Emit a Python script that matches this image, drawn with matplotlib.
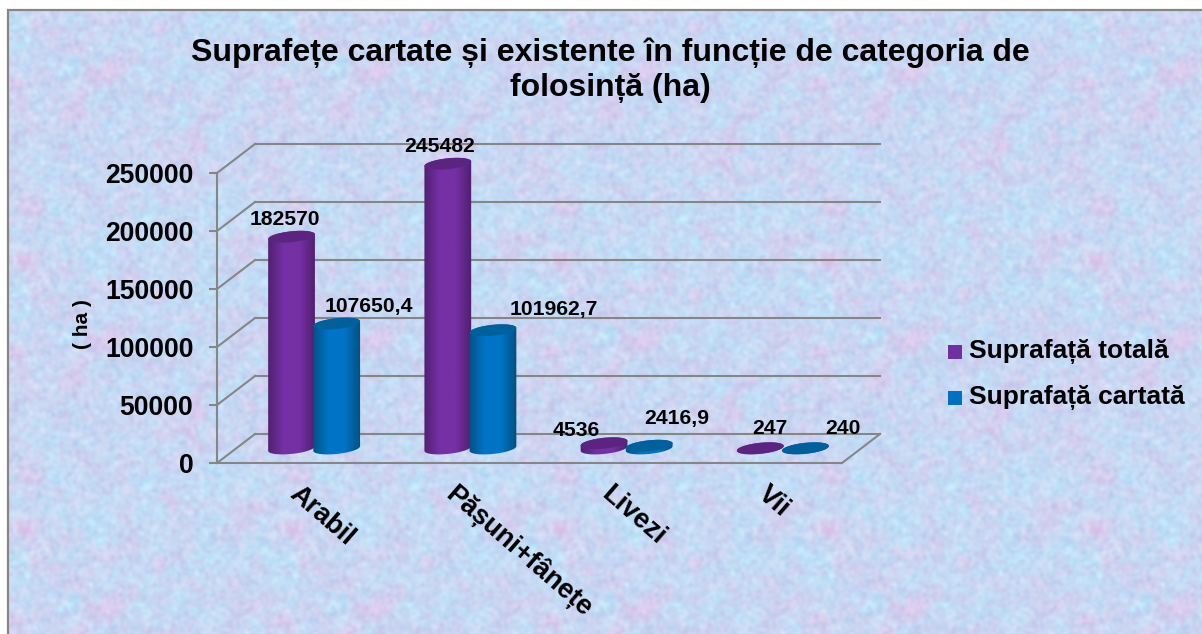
import numpy as np
import matplotlib
matplotlib.use("Agg")
import matplotlib.pyplot as plt
from matplotlib.colors import LinearSegmentedColormap
from matplotlib.patches import Polygon, Rectangle
from matplotlib.transforms import IdentityTransform, ScaledTranslation

plt.rcParams['font.family'] = ['Liberation Sans', 'DejaVu Sans']
plt.rcParams['font.weight'] = 'bold'

categories = ["Arabil", "Pășuni+fânețe", "Livezi", "Vii"]
total_area = [182570, 245482, 4536, 247]
mapped_area = [107650.4, 101962.7, 2416.9, 240]
total_labels = ["182570", "245482", "4536", "247"]
mapped_labels = ["107650,4", "101962,7", "2416,9", "240"]
y_ticks = [0, 50000, 100000, 150000, 200000, 250000]

W, H = 1202, 634
GREY = "#868686"
DEPTH = (38, 29)
BAR_OFF = 0.1445     # bar centre distance from category centre
HALF_W = 23.5        # cylinder radius, px
HALF_B = 5.4
TILT = np.radians(6)

# label shift from the top of each cylinder, px (x right, y up)
total_shift = [(-7, 17), (-8, 17), (-28, 13), (10, 20)]
mapped_shift = [(32, 17), (61, 21), (28, 27), (37, 20)]

fig = plt.figure(figsize=(W / 100, H / 100), dpi=100)


def px_axes(left, top, right, bottom):
    return [left / W, 1 - bottom / H, (right - left) / W, (bottom - top) / H]


def blur(a, sigma):
    fy = np.fft.fftfreq(a.shape[0])[:, None]
    fx = np.fft.fftfreq(a.shape[1])[None, :]
    g = np.exp(-2 * (np.pi * sigma) ** 2 * (fx ** 2 + fy ** 2))
    out = np.fft.ifft2(np.fft.fft2(a) * g).real
    return (out - out.mean()) / out.std()


# mottled pastel paper behind the chart, one small tile repeated
rng = np.random.default_rng(4)
T = 268
hue = blur(rng.normal(size=(T, T)), 9) * 0.6 + blur(rng.normal(size=(T, T)), 3) * 0.6
pink = np.clip(blur(rng.normal(size=(T, T)), 9) - 1.0, 0, None)
fine = blur(rng.normal(size=(T, T)), 1.8)
tile = np.stack([
    200 - 5 * hue + 8 * pink + 4 * fine,
    216 + 4 * hue - 7 * pink + 4 * fine,
    243 + 2 * hue - 3 * pink + 2 * fine,
], axis=2)
tex = np.tile(tile, (H // T + 1, W // T + 1, 1))[:H, :W]
bg = fig.add_axes([0, 0, 1, 1], zorder=0)
bg.imshow(np.clip(tex, 0, 255).astype(np.uint8), extent=(0, W, H, 0), aspect='auto',
          interpolation='bilinear')
bg.set_xlim(0, W)
bg.set_ylim(H, 0)
bg.axis('off')
bg.add_patch(Rectangle((0, 0), 8, H, color='white', lw=0, zorder=2))
bg.add_patch(Rectangle((0, 0), W, 10, color='white', lw=0, zorder=2))
bg.plot([8, 8, W], [H, 10, 10], color=GREY, lw=1.6, zorder=3, solid_joinstyle='miter')

ax = fig.add_axes(px_axes(217, 173, 842, 463), zorder=1)
ax.patch.set_alpha(0)
ax.set_xlim(0, 4)
ax.set_ylim(0, 250000)
for side in ['top', 'right']:
    ax.spines[side].set_visible(False)
for side in ['left', 'bottom']:
    ax.spines[side].set_color(GREY)
    ax.spines[side].set_linewidth(1.5)
ax.set_yticks(y_ticks)
ax.tick_params(axis='y', length=6, width=1.5, color=GREY, labelsize=19.1, pad=11)
ax.set_xticks(np.arange(len(categories)) + 0.5)
ax.set_xticklabels(categories, rotation=-41, ha='left', rotation_mode='anchor', fontsize=19.5)
ax.tick_params(axis='x', length=0, pad=13)
nudge = ScaledTranslation(6 / 100, 0, fig.dpi_scale_trans)
for lab in ax.get_xticklabels():
    lab.set_transform(lab.get_transform() + nudge)
ax.set_ylabel("( ha )", fontsize=15, fontweight='bold', labelpad=9, y=0.48)

px = IdentityTransform()


def to_px(x, v):
    return ax.transData.transform((x, v))


# walls: back gridlines, left diagonals, right floor edge
for v in y_ticks:
    p0 = to_px(0, v)
    p1 = to_px(4, v)
    ax.plot([p0[0], p0[0] + DEPTH[0]], [p0[1], p0[1] + DEPTH[1]], color=GREY, lw=1.5,
            transform=px, clip_on=False, zorder=1)
    ax.plot([p0[0] + DEPTH[0], p1[0] + DEPTH[0]], [p0[1] + DEPTH[1]] * 2, color=GREY, lw=1.5,
            transform=px, clip_on=False, zorder=1)
p1 = to_px(4, 0)
ax.plot([p1[0], p1[0] + DEPTH[0]], [p1[1], p1[1] + DEPTH[1]], color=GREY, lw=1.5,
        transform=px, clip_on=False, zorder=1)


def ellipse_pts(c, t):
    xs = c[0] + HALF_W * np.cos(t) * np.cos(TILT) - HALF_B * np.sin(t) * np.sin(TILT)
    ys = c[1] + HALF_W * np.cos(t) * np.sin(TILT) + HALF_B * np.sin(t) * np.cos(TILT)
    return np.column_stack([xs, ys])


def cylinder(x, value, dark, mid, top_color, z):
    base_c = to_px(x, 0) + np.array(DEPTH) / 2
    top_c = to_px(x, value) + np.array(DEPTH) / 2
    t0 = np.arctan2(-HALF_B * np.sin(TILT), HALF_W * np.cos(TILT))
    lower = ellipse_pts(base_c, np.linspace(t0 + np.pi, t0 + 2 * np.pi, 40))
    upper = ellipse_pts(top_c, np.linspace(t0, t0 + np.pi, 40))
    body = Polygon(np.vstack([lower, upper]), closed=True, transform=px, fc='none', ec='none',
                   clip_on=False)
    ax.add_patch(body)
    cmap = LinearSegmentedColormap.from_list('cyl', [dark, mid, mid, dark])
    shade = np.linspace(0, 1, 128)[None, :]
    im = ax.imshow(shade, cmap=cmap, aspect='auto', transform=px, zorder=z,
                   extent=(base_c[0] - HALF_W - 1, base_c[0] + HALF_W + 1, base_c[1] - 8, top_c[1] + 8))
    im.set_clip_box(fig.bbox)
    im.set_clip_path(body)
    top = Polygon(ellipse_pts(top_c, np.linspace(0, 2 * np.pi, 80)), closed=True, transform=px,
                  fc=top_color, ec='none', zorder=z + 0.1, clip_on=False)
    ax.add_patch(top)
    return top_c


for i in range(len(categories)):
    c = i + 0.5
    top_a = cylinder(c - BAR_OFF, total_area[i], "#4E1F6E", "#7530A4", "#5B2480", 3 + i)
    top_b = cylinder(c + BAR_OFF, mapped_area[i], "#00507F", "#0074C6", "#00609C", 3.5 + i)
    ax.text(top_a[0] + total_shift[i][0], top_a[1] + total_shift[i][1], total_labels[i], transform=px,
            ha='center', va='center', fontsize=15.2, zorder=10, clip_on=False)
    ax.text(top_b[0] + mapped_shift[i][0], top_b[1] + mapped_shift[i][1], mapped_labels[i], transform=px,
            ha='center', va='center', fontsize=15.2, zorder=10, clip_on=False)

ax.set_xlim(0, 4)
ax.set_ylim(0, 250000)

fig.text(610 / W, 1 - 70 / H, "Suprafețe cartate și existente în funcție de categoria de\nfolosință (ha)",
         ha='center', va='center', fontsize=23, fontweight='bold', linespacing=1.2)

# legend
for y, color, name in [(352, "#7030A0", "Suprafață totală"), (398, "#0070C0", "Suprafață cartată")]:
    bg.add_patch(Rectangle((948, y - 7), 14, 14, color=color, lw=0, zorder=4))
    bg.text(969, y, name, ha='left', va='center', fontsize=19, fontweight='bold', zorder=4)

fig.savefig("out.png", dpi=100)
